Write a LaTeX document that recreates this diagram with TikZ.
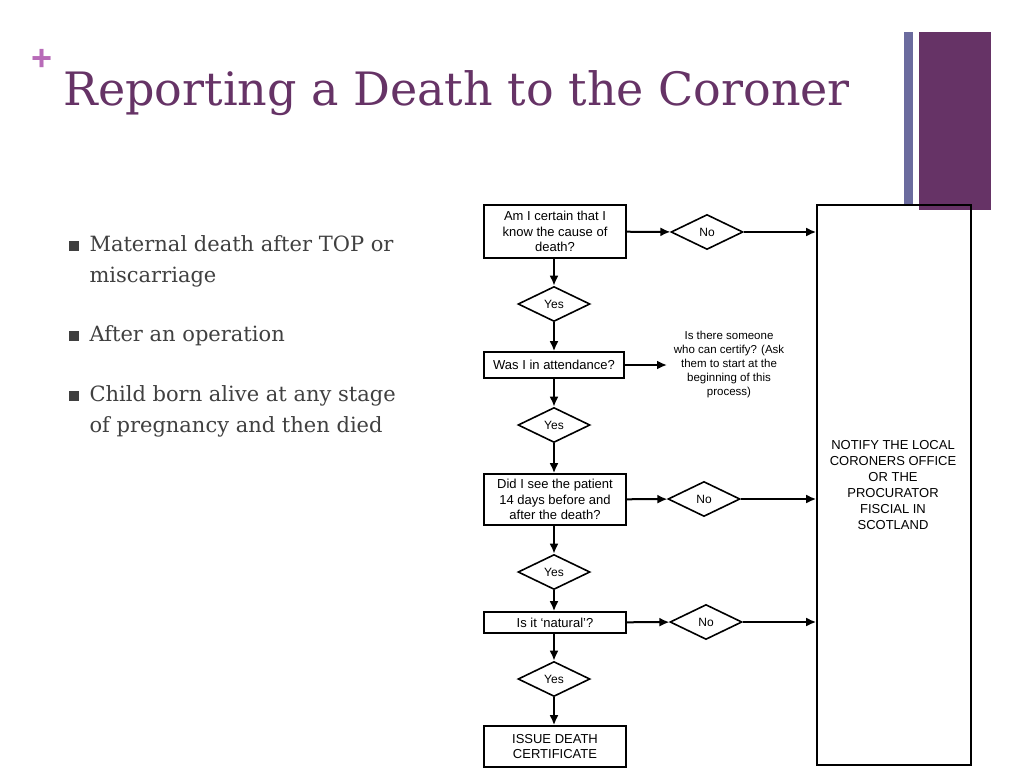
\documentclass[tikz,border=0pt]{standalone}
\usepackage{fontspec}
\setmainfont{Liberation Sans}
\newfontfamily\slab{DejaVu Serif}
\usetikzlibrary{shapes.geometric,arrows.meta}
\definecolor{ttl}{HTML}{663366}
\definecolor{plus}{HTML}{B86BB8}
\definecolor{bar}{HTML}{6B6B9E}
\definecolor{txt}{HTML}{404040}
\begin{document}
\begin{tikzpicture}[x=1pt,y=-1pt,
  box/.style={draw,line width=1.6pt,inner sep=0pt,align=center,font=\fontsize{13}{15.5}\selectfont},
  dia/.style={draw,line width=1.6pt,diamond,aspect=2.1,minimum width=72pt,minimum height=35pt,inner sep=0pt,font=\fontsize{12}{14}\selectfont},
  arr/.style={line width=2pt,-{Latex[length=10pt,width=9pt]}},
  bul/.style={anchor=west,text=txt,font=\slab\fontsize{21}{31}\selectfont,align=left}]
\useasboundingbox (0,0) rectangle (1024,768);
\fill[white] (0,0) rectangle (1024,768);
\node[text=plus,font=\bfseries\fontsize{36}{36}\selectfont] (pl) at (42,60) {+};
\node[anchor=west,text=ttl,font=\slab\fontsize{46}{50}\selectfont] (title) at (60,93) {Reporting a Death to the Coroner};
\fill[bar] (904,32) rectangle (913,205);
\fill[ttl] (919,32) rectangle (991,210);
\foreach \y in {246,336,396} \fill[txt] (69,\y-5) rectangle (79,\y+5);
\node[bul] (b1) at (86,261) {Maternal death after TOP or\\miscarriage};
\node[bul] (b2) at (86,336) {After an operation};
\node[bul] (b3) at (86,411) {Child born alive at any stage\\of pregnancy and then died};

\node[box,minimum width=142pt,minimum height=53pt] (q1) at (555,231.5) {Am I certain that I\\know the cause of\\death?};
\node[box,minimum width=154pt,minimum height=560pt] (big) at (894,485) {};
\node[align=center,font=\fontsize{13}{16}\selectfont] (bt) at (893,485) {NOTIFY THE LOCAL\\CORONERS OFFICE\\OR THE\\PROCURATOR\\FISCIAL IN\\SCOTLAND};
\node[dia] (n1) at (707,232) {No};
\node[dia] (y1) at (554,304) {Yes};
\node[box,minimum width=140pt,minimum height=26pt] (q2) at (554,365) {Was I in attendance?};
\node[align=center,font=\fontsize{11.5}{14}\selectfont] (note) at (729,365) {Is there someone\\who can certify? (Ask\\them to start at the\\beginning of this\\process)};
\coordinate (nt) at (667,365);
\node[dia] (y2) at (554,425) {Yes};
\node[box,minimum width=142pt,minimum height=51pt] (q3) at (555,499.5) {Did I see the patient\\14 days before and\\after the death?};
\node[dia] (n2) at (704,499) {No};
\node[dia] (y3) at (554,572) {Yes};
\node[box,minimum width=142pt,minimum height=21pt] (q4) at (555,622.5) {Is it `natural'?};
\node[dia] (n3) at (706,622) {No};
\node[dia] (y4) at (554,679) {Yes};
\node[box,minimum width=142pt,minimum height=41pt] (q5) at (555,746.5) {ISSUE DEATH\\CERTIFICATE};

\draw[arr] (q1) -- (n1);
\draw[arr] (n1) -- (n1 -| big.west);
\draw[arr] (q1.south -| y1) -- (y1);
\draw[arr] (y1) -- (q2.north -| y1);
\draw[arr] (q2) -- (nt);
\draw[arr] (q2.south -| y2) -- (y2);
\draw[arr] (y2) -- (q3.north -| y2);
\draw[arr] (q3) -- (n2);
\draw[arr] (n2) -- (n2 -| big.west);
\draw[arr] (q3.south -| y3) -- (y3);
\draw[arr] (y3) -- (q4.north -| y3);
\draw[arr] (q4) -- (n3);
\draw[arr] (n3) -- (n3 -| big.west);
\draw[arr] (q4.south -| y4) -- (y4);
\draw[arr] (y4) -- (q5.north -| y4);
\end{tikzpicture}
\end{document}
